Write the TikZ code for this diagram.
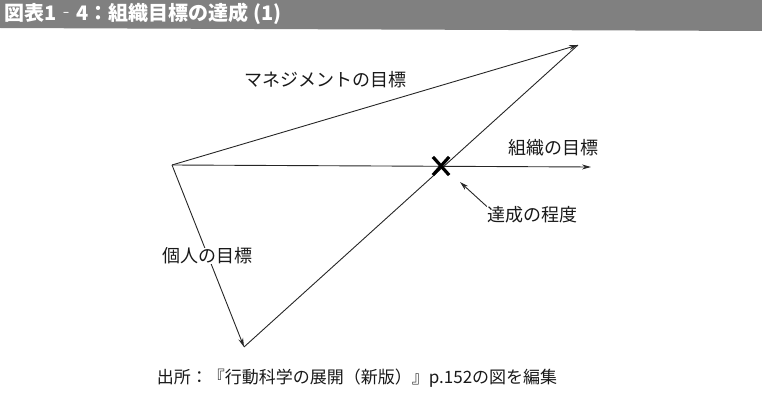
\documentclass[tikz,border=0pt]{standalone}
\usepackage{fontspec}
\setmainfont{Noto Sans CJK JP}
\usetikzlibrary{positioning,arrows.meta,shapes.misc}

\begin{document}
\begin{tikzpicture}[x=1pt, y=-1pt,
goal line/.style={draw=black!85,line width=0.9pt},
goal arrow/.style={goal line,-{Stealth[length=9pt,width=5pt]}},
label node/.style={inner sep=0pt,fill=white,text=black!90,font=\fontsize{18}{18}\selectfont}]
\useasboundingbox (0,0) rectangle (762,401);

\fill[black!50] (0,0) -- (762,0) -- (762,31) -- (0,28) -- cycle;
\node[anchor=west,inner sep=0pt,text=white,font=\fontsize{20}{20}\selectfont\bfseries] (title) at (4,14) {図表1‐4：組織目標の達成 (1)};

\coordinate (O) at (172,165);
\coordinate (M) at (578,45);
\coordinate (G) at (591,167);
\coordinate (P) at (244,347);
\coordinate (tip) at (460,182);

\foreach \x in {M,G,P}
\draw[goal arrow] (O) -- (\x);
\draw[goal line] (P) -- (M);
\node[draw,cross out,line width=3.2pt,minimum width=13pt,minimum height=15pt] (hit) at (441,166) {};

\node[label node] (mgmt) at (325,80) {マネジメントの目標};
\node[label node] (org) at (553,148) {組織の目標};
\node[label node] (indiv) at (207,256) {個人の目標};
\node[label node] (degree) at (532,215) {達成の程度};
\draw[goal arrow] (degree.north west) -- (tip);

\node[label node,font=\fontsize{17}{17}\selectfont] (source) at (357,378) {出所：『行動科学の展開（新版）』p.152の図を編集};
\end{tikzpicture}
\end{document}
